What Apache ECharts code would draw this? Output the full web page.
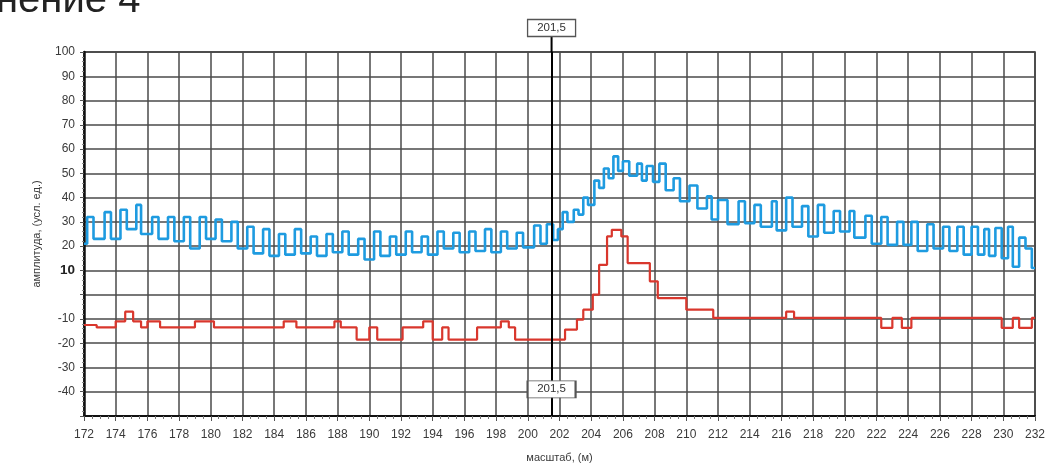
<!DOCTYPE html>
<html>
<head>
<meta charset="utf-8">
<script src="https://cdn.jsdelivr.net/npm/echarts@6/dist/echarts.min.js"></script>
<style>
  html, body { margin: 0; padding: 0; background: #fff; }
  #chart { width: 1053px; height: 463px; }
</style>
</head>
<body>
<div id="chart"></div>
<script>
// Distance range and amplitude range of the trace
const xRange = [172, 232];
const yRange = [-50, 100];

// Upper trace (blue): [position, amplitude], held until the next point
const blueSteps = [
  [172.0, 21], [172.2, 32], [172.6, 23], [173.3, 34], [173.7, 23],
  [174.3, 35], [174.7, 27], [175.3, 37], [175.6, 25], [176.3, 32], [176.7, 23],
  [177.3, 32], [177.7, 22], [178.3, 32], [178.7, 19], [179.3, 32], [179.7, 23],
  [180.3, 31], [180.7, 22], [181.3, 30], [181.7, 19], [182.3, 28], [182.7, 17],
  [183.3, 27], [183.7, 16], [184.3, 25], [184.7, 16.5], [185.3, 27], [185.7, 17],
  [186.3, 24], [186.7, 16], [187.3, 25], [187.7, 17.5], [188.3, 26], [188.7, 16.5],
  [189.3, 23], [189.7, 14.5], [190.3, 26], [190.7, 16], [191.3, 24], [191.7, 16.5],
  [192.3, 26], [192.7, 17.5], [193.3, 24], [193.7, 16.5], [194.3, 26], [194.7, 19],
  [195.3, 25.5], [195.7, 17.5], [196.3, 26], [196.7, 18], [197.3, 27], [197.7, 17.5],
  [198.3, 26], [198.7, 19], [199.3, 25.5], [199.7, 19.5], [200.4, 28.5], [200.8, 21],
  [201.2, 29], [201.6, 22.5], [201.9, 27], [202.2, 34], [202.5, 30], [202.9, 35],
  [203.2, 33], [203.5, 40], [203.8, 37], [204.2, 47], [204.5, 44], [204.8, 52],
  [205.1, 48], [205.4, 57], [205.7, 51], [206.0, 55], [206.4, 49], [206.9, 54],
  [207.2, 47], [207.5, 53], [207.9, 46.5], [208.3, 54], [208.7, 43], [209.2, 48],
  [209.6, 38.5], [210.2, 45], [210.7, 35.5], [211.3, 40.5], [211.6, 31], [212.0, 39],
  [212.6, 29], [213.3, 38.5], [213.7, 29.5], [214.3, 37], [214.7, 28], [215.4, 38.5],
  [215.7, 26.5], [216.3, 40], [216.7, 28], [217.3, 36.5], [217.7, 24], [218.3, 37],
  [218.7, 25.5], [219.3, 34.5], [219.7, 26], [220.3, 34.5], [220.6, 23.5], [221.3, 32.5],
  [221.7, 21], [222.3, 32], [222.7, 20.5], [223.3, 30], [223.7, 20.5], [224.2, 30],
  [224.6, 18], [225.2, 29], [225.6, 19], [226.2, 28], [226.6, 18], [227.1, 28],
  [227.5, 16.5], [228.0, 28], [228.4, 16.5], [228.8, 27], [229.1, 16], [229.5, 27.5],
  [229.9, 15], [230.3, 28], [230.6, 11.5], [231.0, 23.5], [231.4, 19], [231.8, 11],
  [232.0, 11]
];

// Lower trace (red): [position, amplitude], held until the next point
const redSteps = [
  [172.0, -12.5], [172.8, -13.5], [174.0, -11], [174.6, -7], [175.1, -11],
  [175.6, -13.5], [176.0, -11], [176.8, -13.5], [179.0, -11], [180.2, -13.5],
  [184.6, -11], [185.4, -13.5], [187.8, -11], [188.2, -13.5], [189.2, -18.5],
  [190.0, -13.5], [190.5, -18.5], [192.1, -13.5], [193.4, -11], [194.0, -18.5],
  [194.6, -13.5], [195.0, -18.5], [196.8, -13.5], [198.3, -11], [198.8, -13.5],
  [199.2, -18.5], [202.35, -14.4], [203.1, -10.3], [203.5, -6.2], [204.1, 0],
  [204.5, 12.3], [205.0, 24], [205.3, 26.7], [205.9, 24], [206.3, 13],
  [207.7, 5.5], [208.2, -1.4], [210.0, -6.2], [211.7, -9.6], [216.3, -7],
  [216.8, -9.6], [222.3, -13.7], [223.0, -9.6], [223.6, -13.7], [224.2, -9.6],
  [229.9, -13.7], [230.6, -9.6], [231.0, -13.7], [231.8, -9.6], [232.0, -9.6]
];

// Cursor position and its caption
const cursorPos = 201.5;
const cursorText = '201,5';

const textColor = '#3a3a3a';
const gridColor = '#4a4a4a';
const fontFamily = '"Liberation Sans", Arial, sans-serif';

const chart = echarts.init(document.getElementById('chart'));

chart.setOption({
  animation: false,
  backgroundColor: '#fff',
  grid: {
    left: 84, right: 18, top: 52, bottom: 47,
    outerBoundsMode: 'none',
    show: true, borderColor: '#222', borderWidth: 1.5
  },
  xAxis: {
    type: 'value',
    min: xRange[0], max: xRange[1], interval: 2,
    name: 'масштаб, (м)',
    nameLocation: 'middle',
    nameGap: 36,
    nameTextStyle: { color: textColor, fontSize: 11, fontFamily: fontFamily },
    axisLine: { show: true, onZero: false, lineStyle: { color: '#111', width: 2 } },
    axisTick: { show: true, length: 5, lineStyle: { color: '#555' } },
    minorTick: { show: true, splitNumber: 4, length: 3, lineStyle: { color: '#777' } },
    axisLabel: { color: textColor, fontSize: 12, margin: 13, fontFamily: fontFamily },
    splitLine: { show: true, lineStyle: { color: gridColor, width: 1.5 } }
  },
  yAxis: {
    type: 'value',
    min: yRange[0], max: yRange[1], interval: 10,
    name: 'амплитуда, (усл. ед.)',
    nameLocation: 'middle',
    nameGap: 42,
    nameRotate: 90,
    nameTextStyle: { color: textColor, fontSize: 11, fontFamily: fontFamily },
    axisLine: { show: true, onZero: false, lineStyle: { color: '#111', width: 2.5 } },
    axisTick: { show: true, length: 4, lineStyle: { color: '#555' } },
    minorTick: { show: true, splitNumber: 5, length: 2, lineStyle: { color: '#888' } },
    axisLabel: {
      color: textColor, fontSize: 12, margin: 9, fontFamily: fontFamily,
      formatter: function (v) {
        if (v === 0 || v === yRange[0]) return '';
        if (v === 10) return '{b|' + v + '}';
        return String(v);
      },
      rich: { b: { fontSize: 13.5, fontWeight: 'bold', color: '#222', fontFamily: fontFamily } }
    },
    splitLine: { show: true, lineStyle: { color: gridColor, width: 1.5 } }
  },
  series: [
    {
      name: 'upper',
      type: 'line',
      step: 'end',
      data: blueSteps,
      showSymbol: false,
      lineStyle: { color: '#1e9be0', width: 2.6 },
      z: 3
    },
    {
      name: 'lower',
      type: 'line',
      step: 'end',
      data: redSteps,
      showSymbol: false,
      lineStyle: { color: '#d9372d', width: 2.2 },
      z: 4,
      markLine: {
        silent: true,
        symbol: 'none',
        label: { show: false },
        lineStyle: { color: '#000', width: 2, type: 'solid' },
        data: [[{ coord: [cursorPos, yRange[1]] }, { coord: [cursorPos, yRange[0]] }]]
      },
      markPoint: {
        silent: true,
        symbol: 'rect',
        symbolSize: [48, 17],
        itemStyle: { color: '#fff', borderColor: '#555', borderWidth: 1.3 },
        label: {
          show: true, position: 'inside', formatter: cursorText,
          color: '#333', fontSize: 11.5, fontFamily: fontFamily
        },
        data: [{ coord: [cursorPos, -39] }]
      }
    }
  ]
});

// Caption box above the plot and the cursor stub that joins it to the plot top
const topPt = chart.convertToPixel({ gridIndex: 0 }, [cursorPos, yRange[1]]);
const boxW = 48, boxH = 17, boxCy = 28;
chart.setOption({
  graphic: [
    {
      type: 'text',
      left: -4,
      top: -19,
      style: { text: 'нение 4', font: '40px ' + fontFamily, fill: '#222' }
    },
    {
      type: 'line',
      shape: { x1: topPt[0], y1: boxCy + boxH / 2, x2: topPt[0], y2: topPt[1] },
      style: { stroke: '#000', lineWidth: 2 },
      z: 10
    },
    {
      type: 'rect',
      shape: { x: topPt[0] - boxW / 2, y: boxCy - boxH / 2, width: boxW, height: boxH },
      style: { fill: '#fff', stroke: '#555', lineWidth: 1.3 },
      z: 10
    },
    {
      type: 'text',
      x: topPt[0],
      y: boxCy,
      style: {
        text: cursorText, font: '11.5px ' + fontFamily, fill: '#333',
        align: 'center', verticalAlign: 'middle'
      },
      z: 11
    }
  ]
});
</script>
</body>
</html>
